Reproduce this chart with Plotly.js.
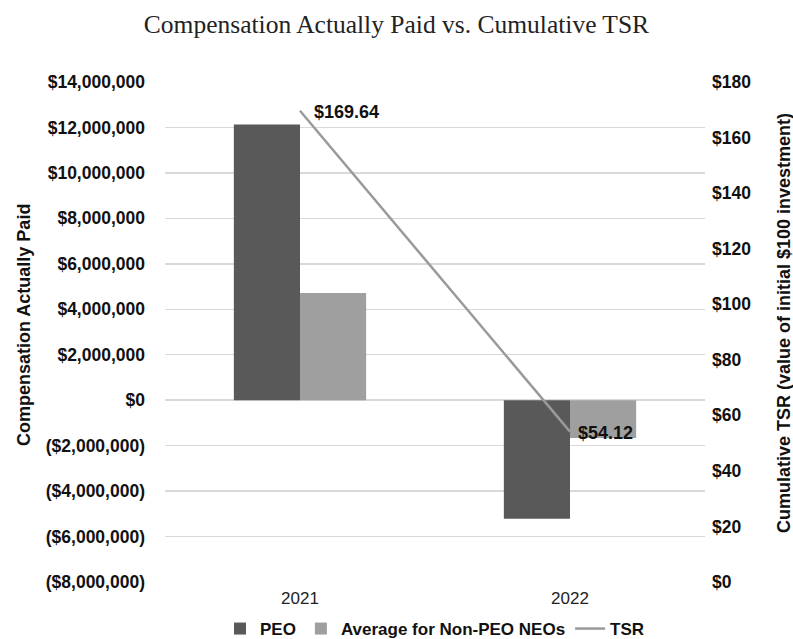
<!DOCTYPE html>
<html><head><meta charset="utf-8">
<script src="https://cdn.plot.ly/plotly-3.0.1.min.js"></script>
<style>html,body{margin:0;padding:0;background:#fff}#chart{width:793px;height:639px}</style>
</head><body><div id="chart"></div>
<script>
const years = ['2021', '2022'];
const peo = [12130000, -5220000];
const nonPeo = [4720000, -1660000];
const tsr = [169.64, 54.12];
const leftTicks = [-8000000,-6000000,-4000000,-2000000,0,2000000,4000000,6000000,8000000,10000000,12000000,14000000];
const rightTicks = [0,20,40,60,80,100,120,140,160,180];
const leftTitle = 'Compensation Actually Paid';
const rightTitle = 'Cumulative TSR (value of initial $100 investment)';

function fmtMoney(v){
  const s = '$' + Math.abs(v).toLocaleString('en-US');
  return v < 0 ? '(' + s + ')' : s;
}

const FAM = 'Liberation Sans, Arial, sans-serif';
const tickFont = {family: FAM, size: 17.5, color: '#111', weight: 'bold'};
const titleFont = {family: FAM, size: 18, color: '#111', weight: 'bold'};

const data = [
  {type:'bar', name:'PEO', x:years, y:peo, marker:{color:'#595959'}, xaxis:'x', yaxis:'y', hoverinfo:'none'},
  {type:'bar', name:'Average for Non-PEO NEOs', x:years, y:nonPeo, marker:{color:'#9f9f9f'}, xaxis:'x', yaxis:'y', hoverinfo:'none'},
  {type:'scatter', mode:'lines', name:'TSR', x:years, y:tsr, xaxis:'x', yaxis:'y2',
   line:{color:'#9a9a9a', width:2.5}, hoverinfo:'none', cliponaxis:false}
];

const labelShift = [12, 6];
const annotations = tsr.map((v, i) => ({
  x: i, y: v, xref:'x', yref:'y2', text: '$' + v.toFixed(2),
  showarrow:false, xanchor:'left', yanchor:'middle', xshift: labelShift[i], yshift: -1,
  font:{family:FAM, size:18, color:'#111', weight:'bold'}
}));
// axis titles placed as rotated annotations (plot area: x 165..705, y 82..582)
annotations.push({text:leftTitle, xref:'paper', yref:'paper', x:(24-165)/540, y:(582-325)/500,
  textangle:-90, showarrow:false, xanchor:'center', yanchor:'middle', font:titleFont});
annotations.push({text:rightTitle, xref:'paper', yref:'paper', x:(784-165)/540, y:(582-323)/500,
  textangle:-90, showarrow:false, xanchor:'center', yanchor:'middle', font:titleFont});

const layout = {
  width: 793, height: 639,
  margin: {l:165, r:88, t:82, b:57, autoexpand:false},
  paper_bgcolor:'#fff', plot_bgcolor:'#fff',
  title: {text:'Compensation Actually Paid vs. Cumulative TSR', x:0.5, xanchor:'center', y:0.962, yanchor:'middle',
    font:{family:'Liberation Serif, Times New Roman, serif', size:25.5, color:'#222'}},
  barmode:'group', bargap:0.51, bargroupgap:0,
  showlegend:true,
  legend:{orientation:'h', x:0.5, xanchor:'center', y:-0.058, yanchor:'top',
    font:{family:FAM, size:17, color:'#111', weight:'bold'},
    traceorder:'normal'},
  annotations: annotations,
  xaxis:{type:'category', categoryorder:'array', categoryarray:years, range:[-0.5, 1.5],
    showgrid:false, zeroline:false, showline:false, ticks:'',
    tickfont:{family:FAM, size:17, color:'#222'}, ticklabelstandoff:4},
  yaxis:{range:[-8000000,14000000], tickvals:leftTicks, ticktext:leftTicks.map(fmtMoney),
    showgrid:true, gridcolor:'#d9d9d9', gridwidth:1.5, zeroline:false, showline:false, ticks:'',
    tickfont:tickFont, ticklabelstandoff:19},
  yaxis2:{range:[0,180], overlaying:'y', side:'right', tickvals:rightTicks, ticktext:rightTicks.map(v=>'$'+v),
    showgrid:false, zeroline:false, showline:false, ticks:'', tickfont:tickFont, ticklabelstandoff:6}
};

Plotly.newPlot('chart', data, layout, {displayModeBar:false, staticPlot:true});
</script>
</body></html>
